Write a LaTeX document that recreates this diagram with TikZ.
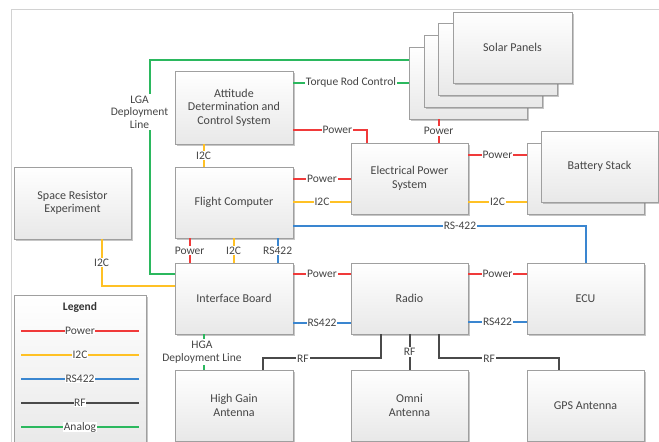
\documentclass[tikz,border=0pt]{standalone}
\usepackage{fontspec}
\setmainfont{Carlito}
\usetikzlibrary{calc,shadows}
\definecolor{cpw}{HTML}{F03A3A}
\definecolor{ci2c}{HTML}{FFC125}
\definecolor{crs}{HTML}{3A86D0}
\definecolor{crf}{HTML}{4A4A4A}
\definecolor{can}{HTML}{2BB85E}
\definecolor{ctext}{HTML}{454545}
\tikzset{
  box/.style={draw=gray!75, line width=0.7pt, top color=white, bottom color=gray!18,
    drop shadow={shadow xshift=2pt, shadow yshift=-2pt, opacity=0.45},
    align=center, font=\fontsize{12}{13.5}\selectfont, text=ctext,
    minimum width=118pt, minimum height=71pt, inner sep=0pt},
  pw/.style={line width=2.2pt, cpw},
  itc/.style={line width=2.2pt, ci2c},
  rs/.style={line width=2.2pt, crs},
  rf/.style={line width=2.2pt, crf},
  an/.style={line width=2.2pt, can},
  lbl/.style={fill=white, inner sep=1pt, font=\fontsize{11.5}{12.5}\selectfont, text=ctext, align=center},
}
\begin{document}
\begin{tikzpicture}[x=1pt,y=-1pt]
\useasboundingbox (0,0) rectangle (659,442);
\clip (0,0) rectangle (659,442);
\draw[gray!35, line width=0.7pt] (11,446) -- (11,9) -- (659,9);

% solar panels stack
\node[box, minimum width=118pt, minimum height=72pt] (sp1) at (468,83) {};
\node[box, minimum width=118pt, minimum height=72pt] (sp2) at (483,71) {};
\node[box, minimum width=119pt, minimum height=72pt] (sp3) at (497.5,59) {};
\node[box, minimum width=119pt, minimum height=71pt] (sp4) at (512.5,47.5) {Solar Panels};

% battery stack
\node[box, minimum width=117pt] (bs2) at (585.5,178.5) {};
\node[box, minimum width=117pt] (bs1) at (599.5,166.5) {Battery Stack};

\node[box, minimum height=73pt] (adcs) at (234,107.5) {Attitude\\Determination and\\Control System};
\node[box] (fc) at (234,202.5) {Flight Computer};
\node[box, minimum width=117pt, minimum height=72pt] (sre) at (72.5,203) {Space Resistor\\Experiment};
\node[box] (ib) at (234,298.5) {Interface Board};
\node[box, minimum width=117pt] (eps) at (409.5,178.5) {Electrical Power\\System};
\node[box, minimum width=117pt] (radio) at (409.5,298.5) {Radio};
\node[box, minimum width=117pt] (ecu) at (585.5,298.5) {ECU};
\node[box] (hga) at (234,405.5) {High Gain\\Antenna};
\node[box, minimum width=117pt] (omni) at (409.5,405.5) {Omni\\Antenna};
\node[box, minimum width=117pt] (gps) at (585.5,405.5) {GPS Antenna};

% legend
\node[box, minimum width=132pt, minimum height=155pt, anchor=north west] (leg) at (14,295) {};
\node[font=\fontsize{11.5}{13}\selectfont\bfseries, text=black!80] (legt) at (80,307) {Legend};
\coordinate (l1a) at (21,331); \coordinate (l1b) at (139,331);
\coordinate (l2a) at (21,355); \coordinate (l2b) at (139,355);
\coordinate (l3a) at (21,379); \coordinate (l3b) at (139,379);
\coordinate (l4a) at (21,403); \coordinate (l4b) at (139,403);
\coordinate (l5a) at (21,427); \coordinate (l5b) at (139,427);
\draw[pw] (l1a) -- node[lbl, inner sep=0.5pt] {Power} (l1b);
\draw[itc] (l2a) -- node[lbl, inner sep=0.5pt] {I2C} (l2b);
\draw[rs] (l3a) -- node[lbl, inner sep=0.5pt] {RS422} (l3b);
\draw[rf] (l4a) -- node[lbl, inner sep=0.5pt] {RF} (l4b);
\draw[an] (l5a) -- node[lbl, inner sep=0.5pt] {Analog} (l5b);

% analog
\draw[an] ($(ib.north west)+(0,11)$) -- ++(-25,0) |- ($(sp1.north west)+(0,13)$);
\node[lbl, inner sep=2pt] (lga) at (139.5,112) {LGA\\Deployment\\Line};
\draw[an] ($(adcs.north east)+(0,12)$) -- node[lbl] {Torque Rod Control} ($(sp1.north west)+(0,36)$);
\draw[an] ($(ib.south west)+(29,0)$) -- ($(hga.north west)+(29,0)$);
\node[lbl, inner sep=2pt] (hgal) at (202,352) {HGA\\Deployment Line};

% power
\draw[pw] ($(adcs.north east)+(0,59)$) -| node[lbl, pos=0.3] {Power} ($(eps.north west)+(16,0)$);
\draw[pw] ($(sp1.south west)+(30,0)$) -- node[lbl] {Power} ($(eps.north west)+(88,0)$);
\draw[pw] ($(eps.north east)+(0,12)$) -- node[lbl] {Power} ($(bs2.north west)+(0,12)$);
\draw[pw] ($(fc.north east)+(0,12)$) -- node[lbl] {Power} ($(eps.north west)+(0,36)$);
\draw[pw] ($(fc.south west)+(15,0)$) -- node[lbl] {Power} ($(ib.north west)+(15,0)$);
\draw[pw] ($(ib.north east)+(0,11)$) -- node[lbl] {Power} ($(radio.north west)+(0,11)$);
\draw[pw] ($(radio.north east)+(0,11)$) -- node[lbl] {Power} ($(ecu.north west)+(0,11)$);

% i2c
\draw[itc] ($(eps.north east)+(0,59)$) -- node[lbl] {I2C} ($(bs2.north west)+(0,59)$);
\draw[itc] ($(fc.north east)+(0,35)$) -- node[lbl] {I2C} ($(eps.north west)+(0,59)$);
\draw[itc] ($(adcs.south west)+(29,0)$) -- node[lbl] {I2C} ($(fc.north west)+(29,0)$);
\draw[itc] ($(fc.south west)+(59,0)$) -- node[lbl] {I2C} ($(ib.north west)+(59,0)$);
\draw[itc] ($(sre.south west)+(88,0)$) |- node[lbl, pos=0.25] {I2C} ($(ib.north west)+(0,23)$);

% rs422
\draw[rs] ($(fc.north east)+(0,59)$) -| node[lbl, pos=0.285] {RS-422} ($(ecu.north west)+(59,0)$);
\draw[rs] ($(fc.south west)+(103,0)$) -- node[lbl] {RS422} ($(ib.north west)+(103,0)$);
\draw[rs] ($(ib.north east)+(0,60)$) -- node[lbl] {RS422} ($(radio.north west)+(0,60)$);
\draw[rs] ($(radio.north east)+(0,59)$) -- node[lbl] {RS422} ($(ecu.north west)+(0,59)$);

% rf
\draw[rf] ($(radio.south west)+(30,0)$) -- ++(0,24) -| node[lbl, pos=0.33] {RF} ($(hga.north west)+(88,0)$);
\draw[rf] ($(radio.south west)+(59,0)$) -- node[lbl] {RF} ($(omni.north west)+(59,0)$);
\draw[rf] ($(radio.south west)+(88,0)$) -- ++(0,24) -| node[lbl, pos=0.21] {RF} ($(gps.north west)+(32,0)$);
\end{tikzpicture}
\end{document}
